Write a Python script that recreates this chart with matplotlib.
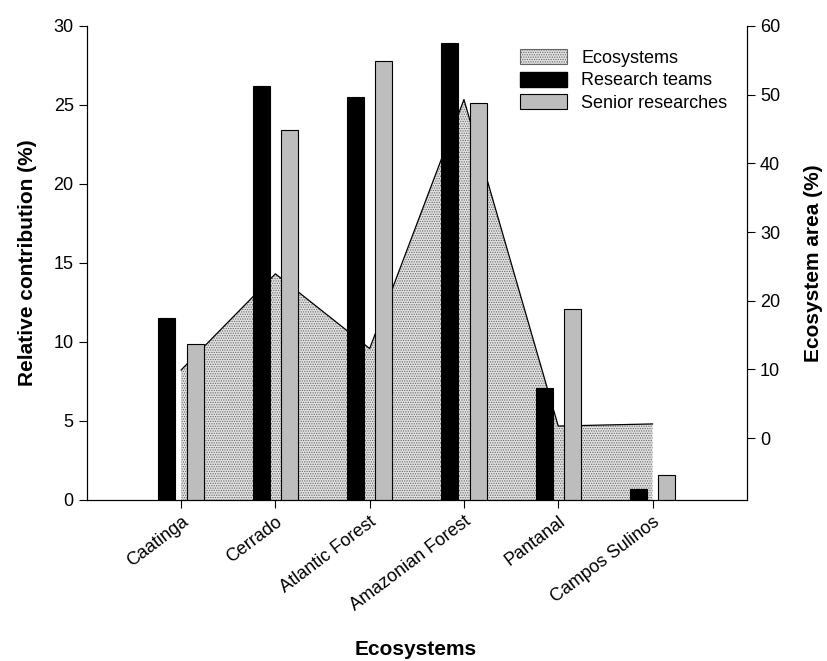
import numpy as np
import matplotlib
matplotlib.use("Agg")
import matplotlib.pyplot as plt
from matplotlib.patches import Patch

plt.rcParams['font.family'] = ['Liberation Sans', 'DejaVu Sans']
plt.rcParams['hatch.color'] = '#666666'
plt.rcParams['hatch.linewidth'] = 0.6

# data
ecosystems = ["Caatinga", "Cerrado", "Atlantic Forest", "Amazonian Forest", "Pantanal", "Campos Sulinos"]
research_teams = [11.5, 26.2, 25.5, 28.9, 7.1, 0.7]
senior_researchers = [9.9, 23.4, 27.8, 25.1, 12.1, 1.6]
area_pct = [9.92, 23.92, 13.04, 49.29, 1.76, 2.07]

x = np.arange(len(ecosystems))
bar_w = 0.18
off = 0.15

fig = plt.figure(figsize=(8.27, 6.61), dpi=100)
ax = fig.add_axes([0.105, 0.2436, 0.798, 0.7171])
ax2 = ax.twinx()

# area on right axis, drawn below bars
ax2.fill_between(x, area_pct, -9, facecolor='#e2e2e2', hatch='.......', edgecolor='#666666', linewidth=0)
ax2.plot(x, area_pct, color='black', lw=0.9)
ax2.set_ylim(-9, 60)
ax2.set_yticks(range(0, 61, 10))
ax2.set_ylabel("Ecosystem area (%)", fontsize=15, fontweight='bold', labelpad=17)

ax.set_zorder(ax2.get_zorder() + 1)
ax.patch.set_visible(False)
ax.bar(x - off, research_teams, bar_w, color='black', edgecolor='black', lw=0.8)
ax.bar(x + off, senior_researchers, bar_w, color='#bdbdbd', edgecolor='black', lw=0.8)
ax.set_ylim(0, 30)
ax.set_xlim(-1, 6)
ax.set_xticks(x)
ax.set_xticklabels(ecosystems, rotation=37, ha='right', rotation_mode='anchor')
ax.set_ylabel("Relative contribution (%)", fontsize=15, fontweight='bold', labelpad=12)
fig.text(0.503, 0.017, "Ecosystems", fontsize=15, fontweight='bold', ha='center', va='center')

for a in (ax, ax2):
    a.spines['top'].set_visible(False)
    a.tick_params(labelsize=13, length=6, width=0.8, direction='out')
    for s in a.spines.values():
        s.set_linewidth(0.8)

handles = [Patch(facecolor='#e2e2e2', hatch='.......', edgecolor='#666666', lw=0.8),
           Patch(facecolor='black', edgecolor='black'),
           Patch(facecolor='#bdbdbd', edgecolor='black', lw=0.8)]
ax.legend(handles, ["Ecosystems", "Research teams", "Senior researches"], loc='upper right',
          bbox_to_anchor=(0.995, 0.985), frameon=False, fontsize=13, handlelength=2.6,
          handleheight=0.9, labelspacing=0.25, handletextpad=0.8)

fig.savefig("out.png", dpi=100)
